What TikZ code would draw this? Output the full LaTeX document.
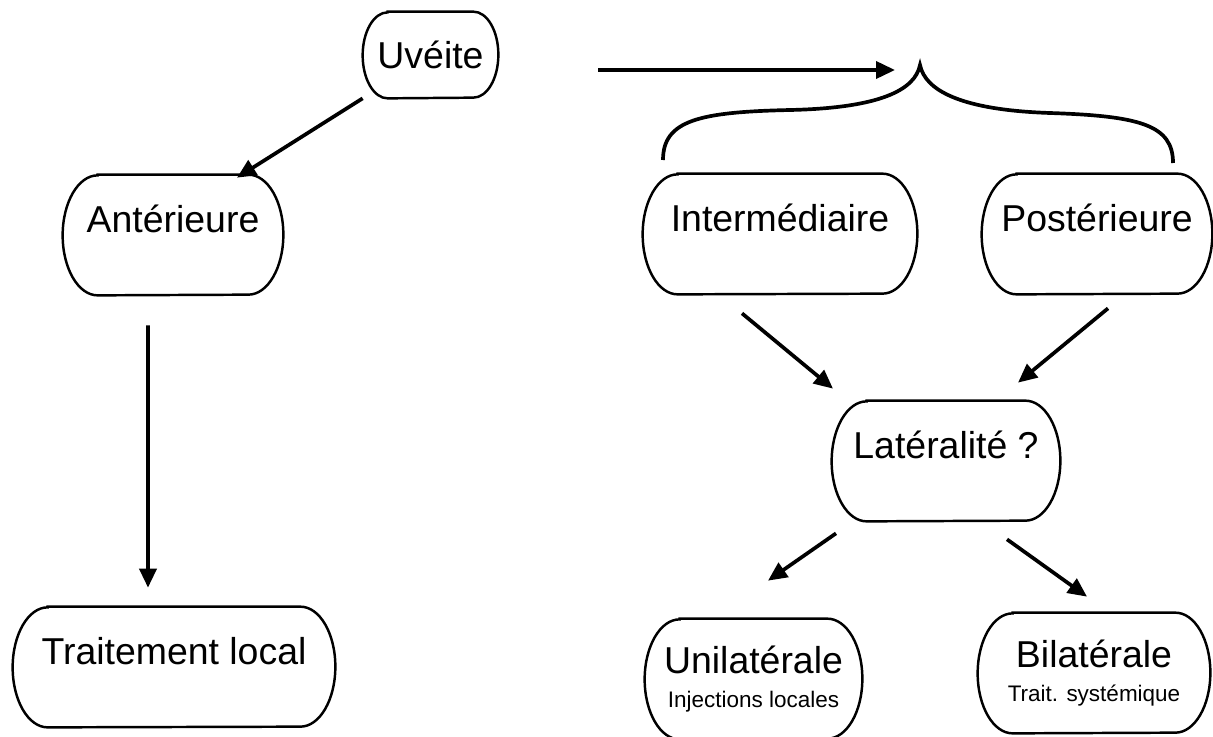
\documentclass[tikz,border=0pt]{standalone}
\usepackage{fontspec}
\setmainfont{Liberation Sans}
\usepackage{tikz}
\usetikzlibrary{arrows.meta}

\newcommand{\subtxt}[1]{{\fontsize{12.8}{15}\selectfont #1}}

\begin{document}
\begin{tikzpicture}[
      every node/.style={font=\fontsize{21.3}{25}\selectfont},
      box/.style={
        minimum height=2.4cm, inner sep=0pt, align=center
      },
      outline/.style={line width=1.4pt},
      arrow/.style={line width=2.1pt, -{Triangle[length=3.8mm,width=3.4mm]}}
    ]
    \fill[white] (0,0) rectangle (24.26,-14.72);
    \useasboundingbox (0,0) rectangle (24.26,-14.72);

    \node[box, minimum width=2.7cm, minimum height=1.72cm] (uv) at (8.61,-1.10) {Uvéite};
    \node[box, minimum width=4.4cm] (ant) at (3.46,-4.70) {Antérieure\\[-11pt]\subtxt{\strut}};
    \node[box, minimum width=6.44cm] (trt) at (3.48,-13.34) {Traitement local\\[-11pt]\subtxt{\strut}};
    \node[box, minimum width=5.48cm] (int) at (15.60,-4.68) {Intermédiaire\\[-11pt]\subtxt{\strut}};
    \node[box, minimum width=4.6cm] (post) at (21.94,-4.68) {Postérieure\\[-11pt]\subtxt{\strut}};
    \node[box, minimum width=4.56cm] (lat) at (18.92,-9.22) {Latéralité ?\\[-11pt]\subtxt{\strut}};
    \node[box, minimum width=4.34cm] (uni) at (15.07,-13.58) {Unilatérale\\[-6pt]\subtxt{Injections locales}};
    \node[box, minimum width=4.64cm] (bil) at (21.88,-13.46) {Bilatérale\\[-6pt]\subtxt{Trait. systémique}};

    % contours arrondis
    \foreach \n/\rx/\ry in {uv/5mm/8.6mm, ant/7mm/12mm, trt/7mm/12mm, int/7mm/12mm,
                            post/7mm/12mm, lat/7mm/12mm, uni/7mm/12mm, bil/7mm/12mm}
      \draw[outline] ([xshift=\rx]\n.north west) -- ([xshift=-\rx]\n.north east)
        arc[start angle=90, end angle=-90, x radius=\rx, y radius=\ry]
        -- ([xshift=\rx]\n.south west)
        arc[start angle=270, end angle=90, x radius=\rx, y radius=\ry] -- cycle;

    % accolade
    \coordinate (brtip) at (18.40,-1.30);
    \draw[line width=2.1pt] (13.26,-3.20) .. controls (13.26,-2.40) and (14.00,-2.24) .. (15.80,-2.20)
      .. controls (17.60,-2.16) and (18.30,-1.80) .. (brtip)
      .. controls (18.50,-1.80) and (19.20,-2.20) .. (21.00,-2.26)
      .. controls (22.80,-2.32) and (23.46,-2.50) .. (23.46,-3.26);

    \draw[arrow] (uv.south west) -- ([xshift=1.28cm,yshift=-0.06cm]ant.north);
    \draw[arrow] ([xshift=2cm,yshift=-0.3cm]uv.east) -- ([xshift=-0.5cm,yshift=-0.1cm]brtip);
    \draw[arrow] ([xshift=-0.5cm,yshift=-0.6cm]ant.south) -- ([xshift=-0.52cm,yshift=0.38cm]trt.north);
    \draw[arrow] ([xshift=-0.76cm,yshift=-0.38cm]int.south) -- ([xshift=-2.26cm,yshift=0.24cm]lat.north);
    \draw[arrow] ([xshift=0.22cm,yshift=-0.28cm]post.south) -- ([xshift=1.44cm,yshift=0.36cm]lat.north);
    \draw[arrow] ([xshift=-2.2cm,yshift=-0.24cm]lat.south) -- ([xshift=0.29cm,yshift=0.76cm]uni.north);
    \draw[arrow] ([xshift=1.22cm,yshift=-0.36cm]lat.south) -- ([xshift=-0.14cm,yshift=0.32cm]bil.north);
  \end{tikzpicture}
\end{document}
